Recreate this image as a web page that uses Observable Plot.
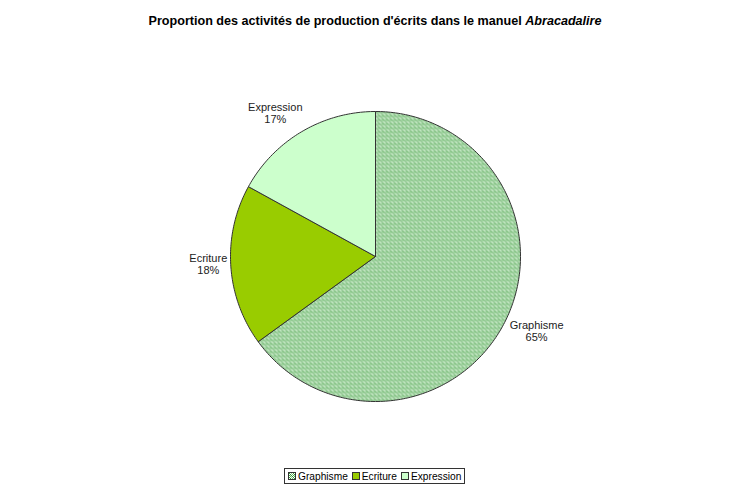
<!DOCTYPE html>
<html>
<head>
<meta charset="utf-8">
<script src="https://cdn.jsdelivr.net/npm/d3@7"></script>
<script src="https://cdn.jsdelivr.net/npm/@observablehq/plot@0.6"></script>
<style>
  body { margin: 0; background: #fff; font-family: "Liberation Sans", Arial, sans-serif; }
  #wrap { position: relative; width: 750px; height: 489px; }
  #title { position: absolute; top: 14px; left: 0; width: 750px; text-align: center; font-weight: bold; font-size: 12.6px; color: #000; }
  #chart { position: absolute; top: 40px; left: 0; }
  #legend { position: absolute; top: 468px; left: 289px; height: 16px; box-sizing: border-box; border: 1px solid #333; padding: 0 3px; font-size: 10.2px; display: flex; align-items: center; gap: 4px; white-space: nowrap; }
  .item { display: flex; align-items: center; gap: 2px; }
</style>
</head>
<body>
<div id="wrap">
  <div id="title">Proportion des activités de production d'écrits dans le manuel <i>Abracadalire</i></div>
  <div id="chart"></div>
  <div id="legend"></div>
</div>
<script>
const categories = ["Graphisme", "Ecriture", "Expression"];
const percents = [65, 18, 17];
const fills = ["url(#dots)", "#99cc00", "#ccffcc"];

const R = 145; // radius in px
const W = 750, H = 410, CX = 375, CY = 216;

// Build slice polygons (clockwise from 12 o'clock)
const total = d3.sum(percents);
let acc = 0;
const slices = categories.map((name, i) => {
  const a0 = acc / total * 2 * Math.PI;
  acc += percents[i];
  const a1 = acc / total * 2 * Math.PI;
  const n = Math.max(2, Math.ceil((a1 - a0) / (Math.PI / 180)));
  const pts = [{x: 0, y: 0}];
  for (let k = 0; k <= n; k++) {
    const a = a0 + (a1 - a0) * k / n;
    pts.push({x: Math.sin(a), y: Math.cos(a)});
  }
  pts.push({x: 0, y: 0});
  const am = (a0 + a1) / 2;
  return {name, value: percents[i], fill: fills[i], pts, mx: Math.sin(am), my: Math.cos(am)};
});

const labels = slices.map(s => ({
  x: s.mx * 1.1,
  y: s.my * 1.1,
  text: s.name + "\n" + s.value + "%"
}));
// label nudges (px) to match the reference placement
const nudges = [[19, 2], [-8, -2], [-19, -6]];

const plot = Plot.plot({
  width: W,
  height: H,
  margin: 0,
  x: {domain: [-CX / R, (W - CX) / R], axis: null},
  y: {domain: [-(H - CY) / R, CY / R], axis: null},
  marks: [
    ...slices.map(s => Plot.line(s.pts, {x: "x", y: "y", fill: s.fill, stroke: "#333", strokeWidth: 1, curve: "linear", strokeLinejoin: "miter"})),
    ...labels.map((l, i) => Plot.text([l], {x: "x", y: "y", text: "text", textAnchor: "middle", dx: nudges[i][0], dy: nudges[i][1], fontSize: 11, lineHeight: 1.1, fill: "#222"}))
  ],
  style: {fontFamily: "'Liberation Sans', Arial, sans-serif", background: "#fff"}
});

// pattern definition for the dotted fill
const svgNS = "http://www.w3.org/2000/svg";
function addPattern(svg) {
  const defs = document.createElementNS(svgNS, "defs");
  const pat = document.createElementNS(svgNS, "pattern");
  pat.setAttribute("id", "dots");
  pat.setAttribute("patternUnits", "userSpaceOnUse");
  pat.setAttribute("width", "4");
  pat.setAttribute("height", "4");
  const grid = [
    ["#2f942f", "#ffffff", "#56b456", "#e6f6e6"],
    ["#ffffff", "#3c9c3c", "#ffffff", "#8fd08f"],
    ["#6cc06c", "#f4fbf4", "#2f942f", "#ffffff"],
    ["#ffffff", "#4aa84a", "#d0eed0", "#3c9c3c"]
  ];
  grid.forEach((row, yy) => row.forEach((c, xx) => {
    const r = document.createElementNS(svgNS, "rect");
    r.setAttribute("x", xx); r.setAttribute("y", yy);
    r.setAttribute("width", 1); r.setAttribute("height", 1);
    r.setAttribute("fill", c);
    pat.appendChild(r);
  }));
  defs.appendChild(pat);
  svg.insertBefore(defs, svg.firstChild);
}
addPattern(plot);
document.getElementById("chart").appendChild(plot);

// legend
const leg = document.getElementById("legend");
categories.forEach((name, i) => {
  const it = document.createElement("span");
  it.className = "item";
  const sw = document.createElementNS(svgNS, "svg");
  sw.setAttribute("width", 8); sw.setAttribute("height", 8);
  const rect = document.createElementNS(svgNS, "rect");
  rect.setAttribute("x", 0.5); rect.setAttribute("y", 0.5);
  rect.setAttribute("width", 7); rect.setAttribute("height", 7);
  rect.setAttribute("fill", fills[i]);
  rect.setAttribute("stroke", "#333");
  sw.appendChild(rect);
  it.appendChild(sw);
  const t = document.createElement("span");
  t.textContent = name;
  it.appendChild(t);
  leg.appendChild(it);
});
// center legend
leg.style.left = Math.round(374 - leg.offsetWidth / 2) + "px";
</script>
</body>
</html>
